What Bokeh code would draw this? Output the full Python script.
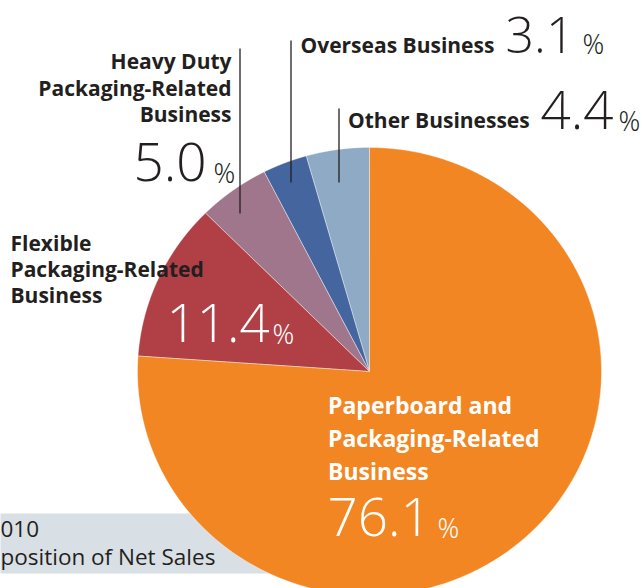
import numpy as np
from bokeh.plotting import figure
from bokeh.models import Range1d
from bokeh.core.properties import value
from bokeh.embed import file_html
from bokeh.resources import INLINE

# ---------------- data ----------------
categories = [
    "Other Businesses",
    "Overseas Business",
    "Heavy Duty Packaging-Related Business",
    "Flexible Packaging-Related Business",
    "Paperboard and Packaging-Related Business",
]
shares = [4.4, 3.1, 5.0, 11.4, 76.1]
colors = ["#8faac5", "#44659e", "#a0768c", "#b04046", "#f28623"]
label_lines = [
    ["Other Businesses"],
    ["Overseas Business"],
    ["Heavy Duty", "Packaging-Related", "Business"],
    ["Flexible", "Packaging-Related", "Business"],
    ["Paperboard and", "Packaging-Related", "Business"],
]
caption_lines = ["010", "position of Net Sales"]

# ---------------- layout ----------------
W, H = 642, 588
REF_H = 588
SHIFT = 0.4  # em correction so texts sit on the wanted baseline


def Y(ry):
    return REF_H - ry


def YT(ry, fs):
    return REF_H - (ry - SHIFT * fs)


p = figure(width=W, height=H,
           x_range=Range1d(0, W), y_range=Range1d(0, H),
           output_backend="svg", toolbar_location=None,
           x_axis_location=None, y_axis_location=None,
           min_border=0)
p.grid.visible = False
p.outline_line_color = None
p.background_fill_color = "white"
p.border_fill_color = "white"

BOLD = value("Open Sans")
NUMF = value("Open Sans Light, Lato Light, Lato")
DARK = "#231f20"

# caption box
CAP_FS = 22.5
p.quad(left=[-20], right=[320], top=[Y(513)], bottom=[Y(573)],
       fill_color="#d9e0e5", line_color=None)
p.text(x=[0, 0], y=[YT(537, CAP_FS), YT(565, CAP_FS)], text=caption_lines,
       text_font=value("Open Sans"), text_font_size=f"{CAP_FS}px",
       text_color=DARK, text_baseline="alphabetic", text_align="left")

# pie (slightly elliptical)
cx, cy, ra, rb = 369, Y(371), 232, 224
tot = float(sum(shares))
edges = np.pi / 2 + np.concatenate([[0.0], np.cumsum(shares)]) / tot * 2 * np.pi
xs, ys = [], []
for i in range(len(shares)):
    t = np.linspace(edges[i], edges[i + 1], 300)
    xs.append(np.concatenate([[cx], cx + ra * np.cos(t)]))
    ys.append(np.concatenate([[cy], cy + rb * np.sin(t)]))
p.patches(xs, ys, fill_color=colors, line_color="white",
          line_width=0.8, line_alpha=0.5)

# leader lines (other, overseas, heavy duty)
p.segment(x0=[338.5, 290.5, 239.5], x1=[338.5, 290.5, 239.5],
          y0=[Y(108), Y(40), Y(48)], y1=[Y(182), Y(182), Y(213)],
          line_color="#231f20", line_width=1.3)

# category labels
label_pos = [  # x, first baseline, line step, align, color, size
    (347.5, 128, 26.5, "left", DARK, 21),
    (300, 53, 26.5, "left", DARK, 21),
    (231, 69, 26.5, "right", DARK, 21),
    (10, 251, 26, "left", DARK, 21),
    (327.5, 414, 33, "left", "white", 23),
]
for lines, (lx, ly, step, al, col, fs) in zip(label_lines, label_pos):
    p.text(x=[lx] * len(lines),
           y=[YT(ly + k * step, fs) for k in range(len(lines))],
           text=lines, text_font=BOLD, text_font_style="bold",
           text_font_size=f"{fs}px", text_color=col,
           text_baseline="alphabetic", text_align=al)

# percentages
PCT_FS = 27
num_pos = [  # digits x, baseline, % x, color, digit size
    (540, 131, 618, DARK, 53),
    (505, 54, 582, DARK, 50),
    (133, 183, 213, DARK, 53),
    (166, 343.5, 272, "white", 53),
    (327, 538, 437, "white", 53),
]
for v, (nx, ny, px, col, nfs) in zip(shares, num_pos):
    p.text(x=[nx], y=[YT(ny, nfs)], text=[f"{v:.1f}"], text_font=NUMF,
           text_font_size=f"{nfs}px", text_color=col,
           text_baseline="alphabetic", text_align="left")
    p.text(x=[px], y=[YT(ny, PCT_FS)], text=["%"], text_font=NUMF,
           text_font_size=f"{PCT_FS}px", text_color=col,
           text_baseline="alphabetic", text_align="left")

open("out.html", "w").write(file_html(p, INLINE))
